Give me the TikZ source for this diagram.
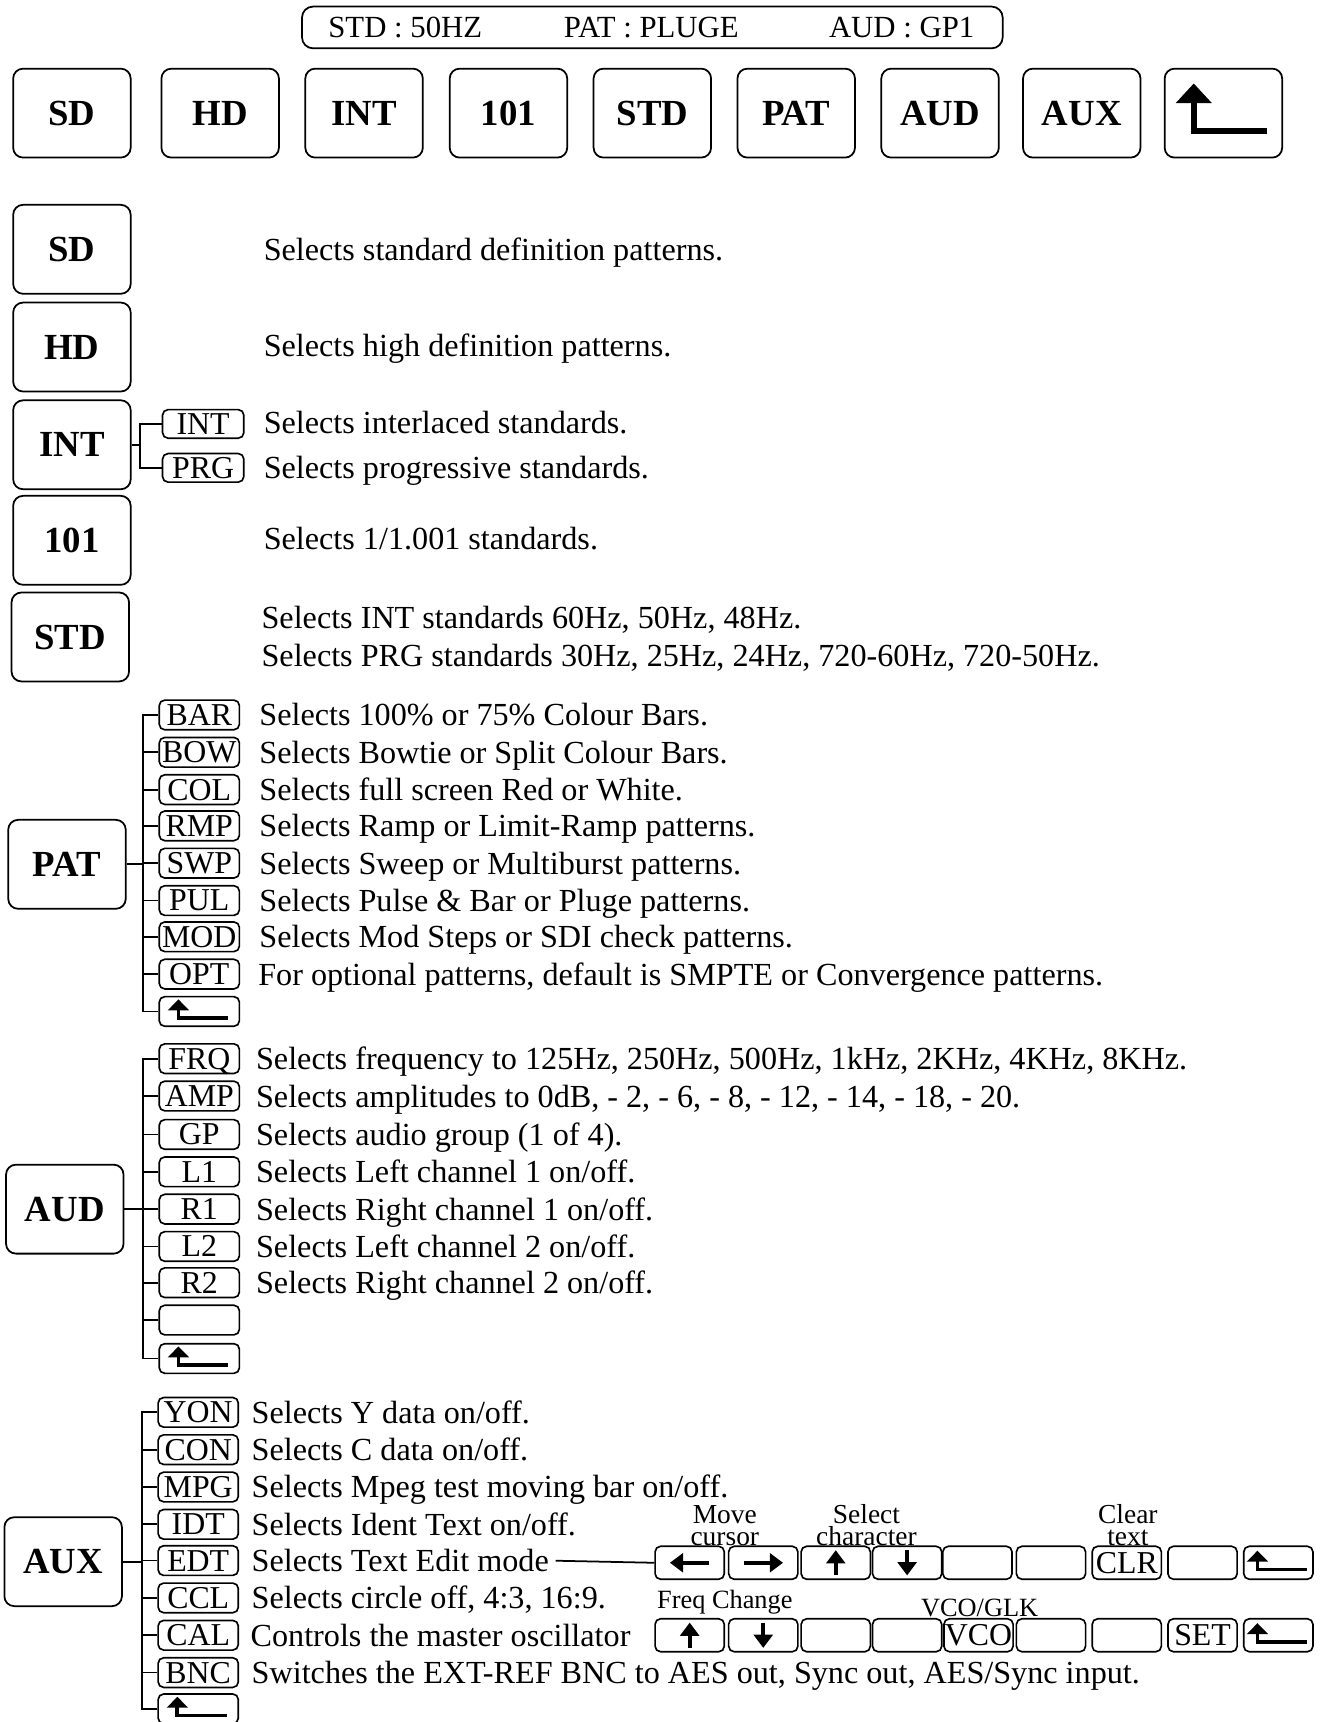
\documentclass[tikz,border=0pt]{standalone}
\usepackage{fontspec}
\setmainfont{Liberation Serif}
\usetikzlibrary{arrows.meta}

\tikzset{
  bigkey/.style={draw, line width=1.6pt, rounded corners=9pt, minimum width=107pt, minimum height=81pt, inner sep=0pt, text height=22pt, text depth=0pt, font=\fontsize{33.5}{36}\selectfont\bfseries},
  smallkey/.style={draw, line width=1.5pt, rounded corners=5pt, minimum width=73pt, minimum height=27pt, inner sep=0pt, text height=19pt, text depth=0pt, font=\fontsize{29}{30}\selectfont},
  editkey/.style={smallkey, minimum width=63pt, minimum height=30pt},
  desc/.style={anchor=west, inner sep=0pt, text height=20pt, text depth=0pt, font=\fontsize{29.3}{32}\selectfont},
  stat/.style={inner sep=0pt, text height=18.5pt, text depth=0pt, font=\fontsize{28}{30}\selectfont},
  note/.style={anchor=south, align=center, inner sep=0pt, font=\fontsize{25}{20}\selectfont},
  smallnote/.style={inner sep=0pt, font=\fontsize{24}{26}\selectfont},
  tree/.style={line width=1.6pt},
  retbig/.pic={\draw[line width=5.5pt, -{Triangle[length=18pt,width=32pt]}] (40,16) -- (-27,16) -- (-27,-27);},
  retsmall/.pic={\draw[line width=3.4pt, -{Triangle[length=10pt,width=19pt]}] (26,6) -- (-19,6) -- (-19,-11);},
  keyarrow/.pic={\draw[line width=3.8pt, -{Triangle[length=12pt,width=17pt]}] (-18,0) -- (18,0);},
  keyarrowv/.pic={\draw[line width=3.8pt, -{Triangle[length=12pt,width=17pt]}] (-11.5,0) -- (11.5,0);},
}

\begin{document}
\begin{tikzpicture}[x=1pt,y=-1pt]
    \useasboundingbox (0,0) rectangle (1207,1568);

    \node[draw, line width=1.6pt, rounded corners=10pt, minimum width=638pt, minimum height=38pt] (status) at (594,25) {};
    \node[stat] (stdval) at (369,25) {STD : 50HZ};
    \node[stat] (patval) at (593,25) {PAT : PLUGE};
    \node[stat] (audval) at (821,25) {AUD : GP1};

    \node[bigkey] (tSD) at (65.5,103) {SD};
    \node[bigkey] (tHD) at (200.5,103) {HD};
    \node[bigkey] (tINT) at (331.5,103) {INT};
    \node[bigkey] (t101) at (463,103) {101};
    \node[bigkey] (tSTD) at (594,103) {STD};
    \node[bigkey] (tPAT) at (725,103) {PAT};
    \node[bigkey] (tAUD) at (856,103) {AUD};
    \node[bigkey] (tAUX) at (985,103) {AUX};
    \node[bigkey] (tRET) at (1114,103) {};
    \pic at (tRET) {retbig};

    \node[bigkey] (kSD) at (65.5,227) {SD};
    \node[desc] (dSD) at (240,227) {Selects standard definition patterns.};

    \node[bigkey] (kHD) at (65.5,316) {HD};
    \node[desc] (dHD) at (240,315) {Selects high definition patterns.};

    \node[bigkey] (kINT) at (65.5,405) {INT};
    \node[smallkey, minimum width=74pt, minimum height=26pt] (iINT) at (185,386) {INT};
    \node[smallkey, minimum width=74pt, minimum height=26pt] (iPRG) at (185,426) {PRG};
    \node[desc] (diINT) at (240,385) {Selects interlaced standards.};
    \node[desc] (diPRG) at (240,426) {Selects progressive standards.};
    \path (iINT.west) ++(-20,0) coordinate (ibar);
    \draw[tree] (kINT.east) -- (kINT.east -| ibar);
    \draw[tree] (iINT.west) -- (iINT.west -| ibar) |- (iPRG.west);

    \node[bigkey] (k101) at (65.5,492) {101};
    \node[desc] (d101) at (240,490) {Selects 1/1.001 standards.};

    \node[bigkey] (kSTD) at (64,580) {STD};
    \node[desc] (dSTDa) at (238,562) {Selects INT standards 60Hz, 50Hz, 48Hz.};
    \node[desc] (dSTDb) at (238,597) {Selects PRG standards 30Hz, 25Hz, 24Hz, 720-60Hz, 720-50Hz.};

    \node[bigkey] (kPAT) at (61,787) {PAT};
    \node[smallkey] (pBAR) at (181.5,651) {BAR};
    \node[smallkey] (pBOW) at (181.5,685) {BOW};
    \node[smallkey] (pCOL) at (181.5,719) {COL};
    \node[smallkey] (pRMP) at (181.5,752) {RMP};
    \node[smallkey] (pSWP) at (181.5,786) {SWP};
    \node[smallkey] (pPUL) at (181.5,820) {PUL};
    \node[smallkey] (pMOD) at (181.5,853) {MOD};
    \node[smallkey] (pOPT) at (181.5,887) {OPT};
    \node[smallkey] (pRET) at (181.5,921) {};
    \pic at (pRET) {retsmall};
    \node[desc] (dBAR) at (236,651) {Selects 100\% or 75\% Colour Bars.};
    \node[desc] (dBOW) at (236,685) {Selects Bowtie or Split Colour Bars.};
    \node[desc] (dCOL) at (236,719) {Selects full screen Red or White.};
    \node[desc] (dRMP) at (236,752) {Selects Ramp or Limit-Ramp patterns.};
    \node[desc] (dSWP) at (236,786) {Selects Sweep or Multiburst patterns.};
    \node[desc] (dPUL) at (236,820) {Selects Pulse \& Bar or Pluge patterns.};
    \node[desc] (dMOD) at (236,853) {Selects Mod Steps or SDI check patterns.};
    \node[desc] (dOPT) at (235,887) {For optional patterns, default is SMPTE or Convergence patterns.};
    \path (pBAR.west) ++(-14,0) coordinate (pbar);
    \draw[tree] (kPAT.east) -- (kPAT.east -| pbar);
    \draw[tree] (pBAR.west) -- (pBAR.west -| pbar) |- (pRET.west);
    \draw[tree] (pBOW.west) -- (pBOW.west -| pbar);
    \draw[tree] (pCOL.west) -- (pCOL.west -| pbar);
    \draw[tree] (pRMP.west) -- (pRMP.west -| pbar);
    \draw[tree] (pSWP.west) -- (pSWP.west -| pbar);
    \draw[tree] (pPUL.west) -- (pPUL.west -| pbar);
    \draw[tree] (pMOD.west) -- (pMOD.west -| pbar);
    \draw[tree] (pOPT.west) -- (pOPT.west -| pbar);

    \node[bigkey] (kAUD) at (59,1101) {AUD};
    \node[smallkey] (aFRQ) at (181.5,964) {FRQ};
    \node[smallkey] (aAMP) at (181.5,998) {AMP};
    \node[smallkey] (aGP) at (181.5,1033) {GP};
    \node[smallkey] (aL1) at (181.5,1067) {L1};
    \node[smallkey] (aR1) at (181.5,1101) {R1};
    \node[smallkey] (aL2) at (181.5,1135) {L2};
    \node[smallkey] (aR2) at (181.5,1168) {R2};
    \node[smallkey] (aBLK) at (181.5,1202) {};
    \node[smallkey] (aRET) at (181.5,1237) {};
    \pic at (aRET) {retsmall};
    \node[desc] (dFRQ) at (233,964) {Selects frequency to 125Hz, 250Hz, 500Hz, 1kHz, 2KHz, 4KHz, 8KHz.};
    \node[desc] (dAMP) at (233,998) {Selects amplitudes to 0dB, - 2, - 6, - 8, - 12, - 14, - 18, - 20.};
    \node[desc] (dGP) at (233,1033) {Selects audio group (1 of 4).};
    \node[desc] (dL1) at (233,1067) {Selects Left channel 1 on/off.};
    \node[desc] (dR1) at (233,1101) {Selects Right channel 1 on/off.};
    \node[desc] (dL2) at (233,1135) {Selects Left channel 2 on/off.};
    \node[desc] (dR2) at (233,1168) {Selects Right channel 2 on/off.};
    \path (aFRQ.west) ++(-14,0) coordinate (abar);
    \draw[tree] (kAUD.east) -- (kAUD.east -| abar);
    \draw[tree] (aFRQ.west) -- (aFRQ.west -| abar) |- (aRET.west);
    \draw[tree] (aAMP.west) -- (aAMP.west -| abar);
    \draw[tree] (aGP.west) -- (aGP.west -| abar);
    \draw[tree] (aL1.west) -- (aL1.west -| abar);
    \draw[tree] (aR1.west) -- (aR1.west -| abar);
    \draw[tree] (aL2.west) -- (aL2.west -| abar);
    \draw[tree] (aR2.west) -- (aR2.west -| abar);
    \draw[tree] (aBLK.west) -- (aBLK.west -| abar);

    \node[bigkey] (kAUX) at (57.5,1422) {AUX};
    \node[smallkey] (xYON) at (180.5,1286) {YON};
    \node[smallkey] (xCON) at (180.5,1320) {CON};
    \node[smallkey] (xMPG) at (180.5,1354) {MPG};
    \node[smallkey] (xIDT) at (180.5,1388) {IDT};
    \node[smallkey] (xEDT) at (180.5,1421) {EDT};
    \node[smallkey] (xCCL) at (180.5,1455) {CCL};
    \node[smallkey] (xCAL) at (180.5,1489) {CAL};
    \node[smallkey] (xBNC) at (180.5,1523) {BNC};
    \node[smallkey] (xRET) at (180.5,1556) {};
    \pic at (xRET) {retsmall};
    \node[desc] (dYON) at (229,1286) {Selects Y data on/off.};
    \node[desc] (dCON) at (229,1320) {Selects C data on/off.};
    \node[desc] (dMPG) at (229,1354) {Selects Mpeg test moving bar on/off.};
    \node[desc] (dIDT) at (229,1388) {Selects Ident Text on/off.};
    \node[desc] (dEDT) at (229,1421) {Selects Text Edit mode};
    \node[desc] (dCCL) at (229,1455) {Selects circle off, 4:3, 16:9.};
    \node[desc] (dCAL) at (228,1489) {Controls the master oscillator};
    \node[desc] (dBNC) at (229,1523) {Switches the EXT-REF BNC to AES out, Sync out, AES/Sync input.};
    \path (xYON.west) ++(-14,0) coordinate (xbar);
    \draw[tree] (kAUX.east) -- (kAUX.east -| xbar);
    \draw[tree] (xYON.west) -- (xYON.west -| xbar) |- (xRET.west);
    \draw[tree] (xCON.west) -- (xCON.west -| xbar);
    \draw[tree] (xMPG.west) -- (xMPG.west -| xbar);
    \draw[tree] (xIDT.west) -- (xIDT.west -| xbar);
    \draw[tree] (xEDT.west) -- (xEDT.west -| xbar);
    \draw[tree] (xCCL.west) -- (xCCL.west -| xbar);
    \draw[tree] (xCAL.west) -- (xCAL.west -| xbar);
    \draw[tree] (xBNC.west) -- (xBNC.west -| xbar);

    \node[note] (lmove) at (660,1408) {Move\\cursor};
    \node[note] (lselect) at (789,1408) {Select\\character};
    \node[note] (lclear) at (1027,1408) {Clear\\text};
    \node[editkey] (eLEFT) at (628,1423) {};
    \pic[rotate=180] at (eLEFT) {keyarrow};
    \node[editkey] (eRIGHT) at (695,1423) {};
    \pic at (eRIGHT) {keyarrow};
    \node[editkey] (eUP) at (761,1423) {};
    \pic[rotate=90] at (eUP) {keyarrowv};
    \node[editkey] (eDOWN) at (826,1423) {};
    \pic[rotate=-90] at (eDOWN) {keyarrowv};
    \node[editkey] (eB1) at (890,1423) {};
    \node[editkey] (eB2) at (957,1423) {};
    \node[editkey] (eCLR) at (1026,1423) {CLR};
    \node[editkey] (eB3) at (1095,1423) {};
    \node[editkey] (eRET) at (1164,1423) {};
    \pic at (eRET) {retsmall};
    \draw[tree, shorten <=6pt] (dEDT.east) -- (eLEFT.west);

    \node[smallnote] (lfreq) at (660,1459) {Freq Change};
    \node[smallnote] (lvco) at (892,1464) {VCO/GLK};
    \node[editkey] (cUP) at (628,1489) {};
    \pic[rotate=90] at (cUP) {keyarrowv};
    \node[editkey] (cDOWN) at (695,1489) {};
    \pic[rotate=-90] at (cDOWN) {keyarrowv};
    \node[editkey] (cB1) at (761,1489) {};
    \node[editkey] (cB2) at (826,1489) {};
    \node[editkey] (cVCO) at (891,1489) {VCO};
    \node[editkey] (cB3) at (957,1489) {};
    \node[editkey] (cB4) at (1026,1489) {};
    \node[editkey] (cSET) at (1095,1489) {SET};
    \node[editkey] (cRET) at (1164,1489) {};
    \pic at (cRET) {retsmall};
\end{tikzpicture}
\end{document}
